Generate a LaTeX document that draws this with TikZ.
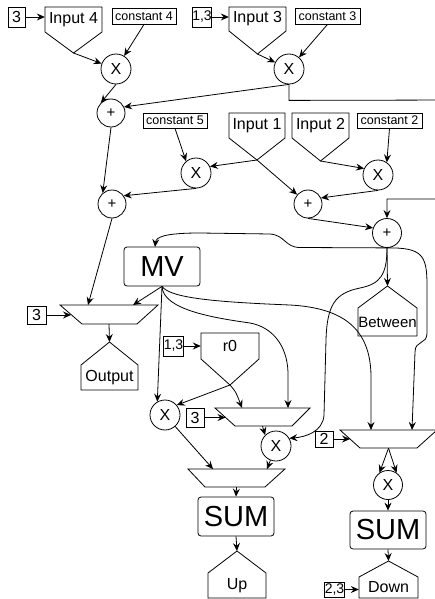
\documentclass[tikz,border=0pt]{standalone}
\usepackage{fontspec}
\setmainfont{Liberation Sans}
\usetikzlibrary{arrows.meta,fit}
\newcommand\fsMid{\fontsize{16}{18}\selectfont}
\newcommand\fsSmall{\fontsize{12.5}{14}\selectfont}
\newcommand\fsBig{\fontsize{29}{32}\selectfont}
\newcommand\fsPlus{\fontsize{15}{17}\selectfont}
\newcommand\fsNum{\fontsize{14}{16}\selectfont}
% pentagon pointing down: name, xl, xr, top, shoulder, tip, text
\newcommand\pentdn[7]{%
  \draw[shp] (#2,#4) -- (#3,#4) -- (#3,#5) -- ({(#2+#3)/2},#6) -- (#2,#5) -- cycle;
  \node[fit={(#2,#4) (#3,#5)}, inner sep=0pt] (#1) {};
  \node[font=\fsMid, inner sep=0pt] (#1-lbl) at (#1.center) {#7};
  \coordinate (#1-tip) at ({(#2+#3)/2},#6);}
% pentagon pointing up: name, xl, xr, tip, shoulder, bottom, text
\newcommand\pentup[7]{%
  \draw[shp] (#2,#6) -- (#3,#6) -- (#3,#5) -- ({(#2+#3)/2},#4) -- (#2,#5) -- cycle;
  \node[fit={(#2,#5) (#3,#6)}, inner sep=0pt] (#1) {};
  \node[font=\fsMid, inner sep=0pt] (#1-lbl) at (#1.center) {#7};
  \coordinate (#1-tip) at ({(#2+#3)/2},#4);}
% trapezoid mux: name, xtl, xtr, ytop, xbl, xbr, ybot
\newcommand\muxshape[7]{%
  \draw[shp] (#2,#4) -- (#3,#4) -- (#6,#7) -- (#5,#7) -- cycle;
  \node[fit={(#2,#4) (#3,#7)}, inner sep=0pt] (#1) {};}
\begin{document}
\begin{tikzpicture}[x=1pt,y=-1pt,
  shp/.style={draw, line width=0.8pt},
  arr/.style={line width=0.8pt, -{Stealth[length=8pt,width=7pt,inset=2.8pt]}},
  box/.style={draw, line width=0.8pt, inner sep=0pt, font=\fsMid},
  nbox/.style={box, font=\fsNum},
  cbox/.style={box, minimum width=64pt, minimum height=16pt, font=\fsSmall},
  circ/.style={draw, circle, line width=0.8pt, inner sep=0pt, minimum size=30pt, font=\fsMid},
  plus/.style={circ, minimum size=28pt, font=\fsPlus},
  big/.style={draw, line width=0.8pt, rounded corners=3pt, minimum width=76pt, minimum height=39pt, inner sep=0pt, font=\fsBig}]
\useasboundingbox (0,0) rectangle (435,599);
\clip (0,0) rectangle (435,599);

% ---- top row
\node[box, minimum width=17pt, minimum height=20pt] (b3a) at (16.5,17) {3};
\pentdn{in4}{45}{102}{7}{32}{53}{Input 4}
\node[cbox] (c4) at (144,16) {constant 4};
\node[circ] (x1) at (116,69) {X};
\node[nbox, minimum width=18pt, minimum height=20pt] (b13a) at (202,17) {1,3};
\pentdn{in3}{229}{286}{7}{31}{54}{Input 3}
\node[cbox, minimum width=65pt] (c3) at (327.5,16) {constant 3};
\node[circ] (x2) at (289,69) {X};
\node[plus] (p1) at (111,113) {+};

% ---- middle row
\node[cbox, minimum height=15pt] (c5) at (175,120.5) {constant 5};
\pentdn{in1}{229}{285}{113}{138}{160}{Input 1}
\pentdn{in2}{292}{349}{113}{138}{161}{Input 2}
\node[cbox, minimum width=65pt, minimum height=15pt] (c2) at (389.5,120.5) {constant 2};
\node[circ] (x3) at (196,173) {X};
\node[circ] (x4) at (378,175) {X};
\node[plus] (p4) at (112,204) {+};
\node[plus] (p2) at (308,204) {+};
\node[plus, minimum size=29pt] (p3) at (387,233) {+};

% ---- MV and outputs
\node[big] (mv) at (162,266.5) {MV};
\muxshape{mux1}{60}{158}{305}{82}{137}{324}
\node[box, minimum width=19pt, minimum height=18pt] (b3b) at (36.5,315) {3};
\pentup{out}{81}{138}{342}{365}{390}{Output}
\pentup{btw}{358}{417}{286}{308}{336}{\fontsize{15}{17}\selectfont Between}

% ---- lower part
\node[nbox, minimum width=19pt, minimum height=20pt] (b13b) at (173.5,346) {1,3};
\pentdn{r0}{201}{259}{333}{359}{385}{r0}
\node[circ] (x5) at (165,415) {X};
\node[box, minimum width=18pt, minimum height=19pt] (b3c) at (195,417.5) {3};
\muxshape{mux3}{215}{310}{408}{235}{292}{426}
\node[circ] (x6) at (276,446) {X};
\node[box, minimum width=18pt, minimum height=16pt] (b2) at (324,439) {2};
\muxshape{mux2}{340}{437}{430}{360}{417}{448}
\muxshape{mux4}{188}{285}{469}{205}{265}{487}
\node[big] (sum1) at (236,516.5) {SUM};
\node[circ, minimum size=29pt] (x7) at (388,485) {X};
\node[big, minimum height=38pt] (sum2) at (388,530) {SUM};
\pentup{up}{208}{266}{551}{573}{598}{Up}
\pentup{down}{359}{418}{561}{577}{598}{Down}
\node[nbox, minimum width=19pt, minimum height=15pt] (b23) at (334.5,589.5) {2,3};

% ---- ports on shapes
\coordinate (m1a) at (88,305);
\coordinate (m1b) at (133,305);
\coordinate (m1l) at (71,315);
\coordinate (mvin) at (155,247);
\coordinate (m3a) at (242,408);
\coordinate (m3b) at (288,408);
\coordinate (m3l) at (225.5,417.5);
\coordinate (m2a) at (371,430);
\coordinate (m2b) at (412,430);
\coordinate (m2l) at (350,439);
\coordinate (m4a) at (213,469);
\coordinate (m4b) at (267,469);

% ---- connectors, top
\draw[arr] (b3a.east) -- (b3a.east -| in4.west);
\draw[arr] (in4-tip) -- (x1);
\draw[arr] (c4.south) -- (x1);
\draw[arr] (b13a.east) -- (b13a.east -| in3.west);
\draw[arr] (in3-tip) -- (x2);
\draw[arr] (c3.south) -- (x2);
\draw[arr] (x1.south) -- (p1.135);
\draw[arr] (x2.south) -- (p1.25);
\draw[arr] (x2.south) -- ++(0,16) -- (460,100) -- (460,199) -| (p3.north);

% ---- connectors, middle
\draw[arr] (c5.south) -- (x3.130);
\draw[arr] (in1-tip) -- (x3.25);
\draw[arr] (in1-tip) -- (p2);
\draw[arr] (in2-tip) -- (x4.155);
\draw[arr] (c2.south) -- (x4.55);
\draw[arr] (x4.south) -- (p2.25);
\draw[arr] (x3.south) -- (p4.35);
\draw[arr] (p1.south) -- (p4.130);
\draw[arr] (p2.south) -- (p3.160);
\draw[arr] (p4.south) -- (m1a);

% ---- from the last adder
\draw[arr] (p3.south) -- (300,247.5) .. controls (285,247.5) and (285,235) .. (270,234)
  -- (200,233) .. controls (165,233) and (156,237) .. (mvin);
\draw[arr] (p3.south) -- (btw-tip);
\draw[arr] (p3.south) .. controls (422,247.5) and (427,255) .. (427,285) -- (427,333)
  .. controls (427,345) and (415,340) .. (415,352) -- (m2b);
\draw[arr] (p3.south) .. controls (387,275) and (380,284) .. (360,288)
  .. controls (335,293) and (327,305) .. (326,340) -- (324,415)
  .. controls (323,432) and (305,437) .. (x6.30);

% ---- from MV
\draw[arr] (mv.south) -- (m1b);
\draw[arr] (mv.south) -- (x5.120);
\draw[arr] (mv.south) .. controls (163,310) and (215,318) .. (250,323)
  .. controls (272,327) and (287,345) .. (288,372) -- (m3b);
\draw[arr] (mv.south) .. controls (170,298) and (215,302) .. (290,305)
  .. controls (345,308) and (370,330) .. (371,375) -- (m2a);

% ---- lower connectors
\draw[arr] (b3b.east) -- (m1l);
\draw[arr] (mux1.south) -- (out-tip);
\draw[arr] (b13b.east) -- (b13b.east -| r0.west);
\draw[arr] (r0-tip) -- (x5.40);
\draw[arr] (r0-tip) .. controls (236,392) .. (m3a);
\draw[arr] (b3c.east) -- (m3l);
\draw[arr] (mux3.south) -- (x6.135);
\draw[arr] (x5) -- (m4a);
\draw[arr] (x6) -- (m4b);
\draw[arr] (mux4.south) -- (sum1.north);
\draw[arr] (sum1.south) -- (up-tip);
\draw[arr] (b2.east) -- (m2l);
\draw[arr] (mux2.south) -- (x7.125);
\draw[arr] (mux2.south) -- (x7.55);
\draw[arr] (x7.south) -- (sum2.north);
\draw[arr] (sum2.south) -- (down-tip);
\draw[arr] (b23.east) -- (b23.east -| down.west);
\end{tikzpicture}
\end{document}
